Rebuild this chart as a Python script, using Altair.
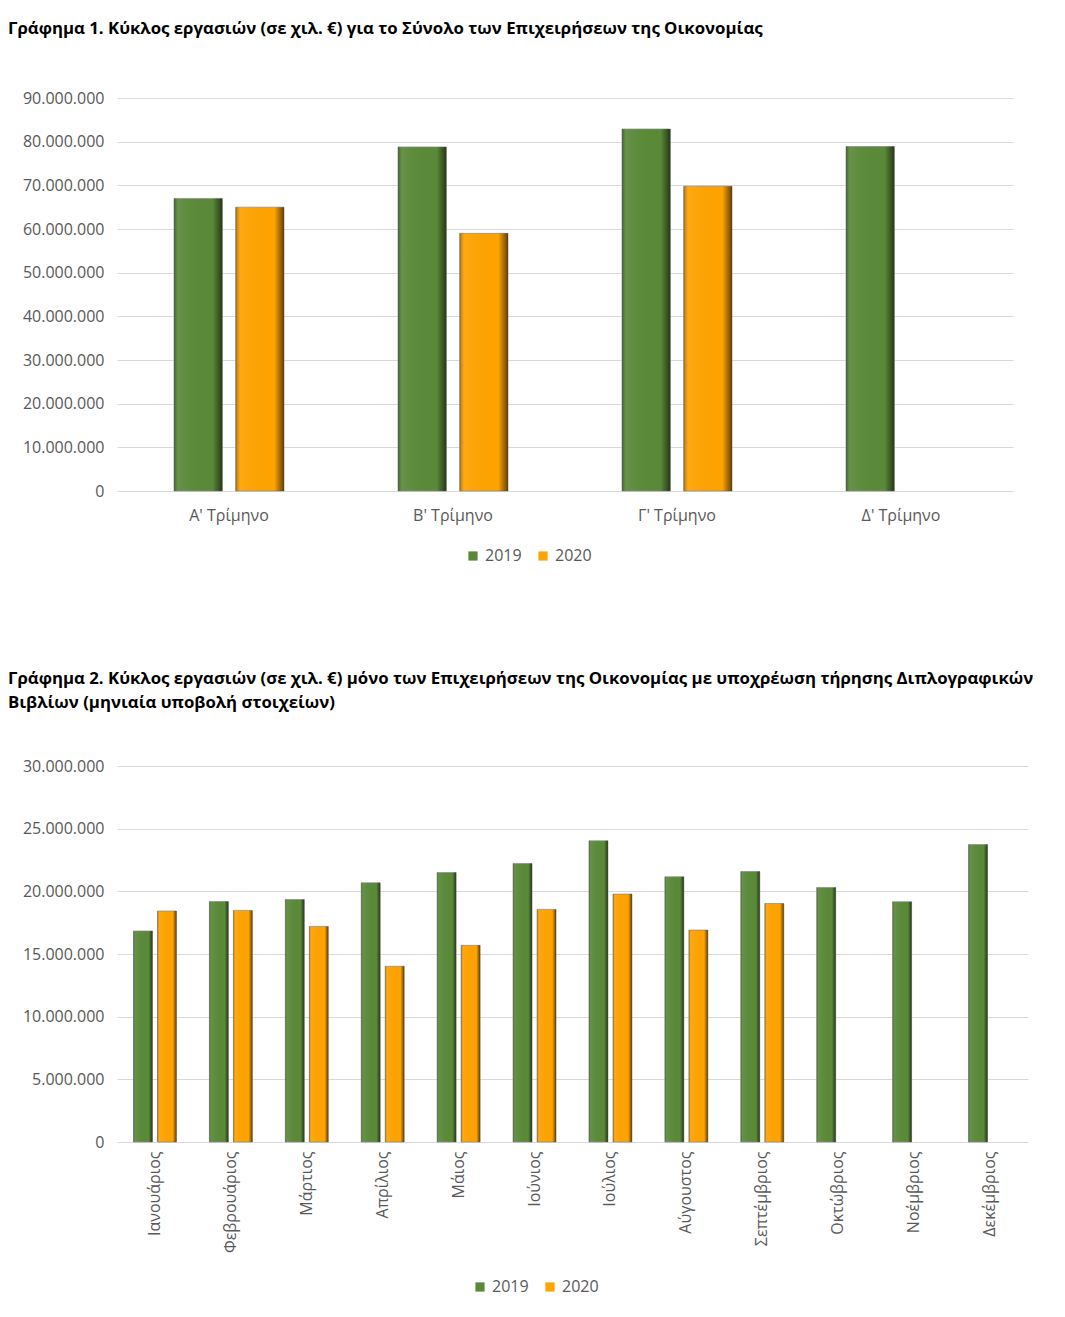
import altair as alt
import pandas as pd

# ---------------- data ----------------
years = ["2019", "2020"]

quarters = ["Α' Τρίμηνο", "Β' Τρίμηνο", "Γ' Τρίμηνο", "Δ' Τρίμηνο"]
q2019 = [67000000, 78800000, 82900000, 78900000]
q2020 = [65000000, 59000000, 69800000]

months = ["Ιανουάριος", "Φεβρουάριος", "Μάρτιος", "Απρίλιος", "Μάιος", "Ιούνιος",
          "Ιούλιος", "Αύγουστος", "Σεπτέμβριος", "Οκτώβριος", "Νοέμβριος", "Δεκέμβριος"]
m2019 = [16840000, 19190000, 19350000, 20680000, 21500000, 22220000,
         24030000, 21160000, 21580000, 20310000, 19170000, 23730000]
m2020 = [18430000, 18480000, 17200000, 14020000, 15690000, 18560000,
         19780000, 16910000, 19030000]

title1 = "Γράφημα 1.  Κύκλος εργασιών (σε χιλ. €) για το Σύνολο των Επιχειρήσεων της Οικονομίας"
title2 = ["Γράφημα 2. Κύκλος εργασιών (σε χιλ. €) μόνο των Επιχειρήσεων της Οικονομίας με υποχρέωση τήρησης Διπλογραφικών",
          "Βιβλίων (μηνιαία υποβολή στοιχείων)"]

y1_ticks = [0, 10000000, 20000000, 30000000, 40000000, 50000000, 60000000, 70000000, 80000000, 90000000]
y2_ticks = [0, 5000000, 10000000, 15000000, 20000000, 25000000, 30000000]


def frame(cats, v19, v20, cat_field, val_field, yr_field):
    rows = [{cat_field: c, yr_field: "2019", val_field: v} for c, v in zip(cats, v19)]
    rows += [{cat_field: c, yr_field: "2020", val_field: v} for c, v in zip(cats, v20)]
    return pd.DataFrame(rows)


df1 = frame(quarters, q2019, q2020, "quarter", "turnover_q", "year_q")
df2 = frame(months, m2019, m2020, "month", "turnover_m", "year_m")

FONT = "Open Sans"
GREY = "#595959"
COLORS = ["#5a8a38", "#ffa300"]
LABEL_EXPR = "replace(replace(format(datum.value, ','), ',', '.'), ',', '.')"

shade = alt.Gradient(
    gradient="linear", x1=0, x2=1, y1=0, y2=0,
    stops=[alt.GradientStop(color="rgba(0,0,0,0.35)", offset=0),
           alt.GradientStop(color="rgba(255,255,255,0.06)", offset=0.12),
           alt.GradientStop(color="rgba(0,0,0,0)", offset=0.8),
           alt.GradientStop(color="rgba(0,0,0,0.6)", offset=1)])


def bar_chart(df, cat_f, val_f, yr_f, cats, w, h, ymax, yticks, p_in, p_out,
              label_angle, label_pad, lx, ly, title, title_offset):
    x = alt.X(f"{cat_f}:N", sort=cats,
              scale=alt.Scale(paddingInner=0, paddingOuter=0),
              axis=alt.Axis(title=None, labelAngle=label_angle, labelPadding=label_pad,
                            ticks=False, domain=False, labelFont=FONT, labelFontSize=16,
                            labelColor=GREY))
    xo = alt.XOffset(f"{yr_f}:N", scale=alt.Scale(domain=years, paddingInner=p_in,
                                                  paddingOuter=p_out))
    y = alt.Y(f"{val_f}:Q", scale=alt.Scale(domain=[0, ymax], nice=False),
              axis=alt.Axis(title=None, values=yticks, labelExpr=LABEL_EXPR,
                            ticks=False, domain=False, labelPadding=13,
                            labelFont=FONT, labelFontSize=16, labelColor=GREY,
                            gridColor="#d9d9d9", gridWidth=1.2))
    main = alt.Chart(df).mark_bar(stroke="#8a8a8a", strokeWidth=0.7).encode(
        x=x, xOffset=xo, y=y,
        color=alt.Color(f"{yr_f}:N", scale=alt.Scale(domain=years, range=COLORS),
                        legend=alt.Legend(title=None, orient="none", legendX=lx, legendY=ly,
                                          direction="horizontal", symbolType="square",
                                          symbolSize=85, symbolStrokeWidth=0,
                                          labelFont=FONT, labelFontSize=16,
                                          labelColor=GREY, columnPadding=13,
                                          labelOffset=4)))
    over = alt.Chart(df).mark_bar(fill=shade).encode(x=x, xOffset=xo, y=y)
    return alt.layer(main, over).properties(
        width=w, height=h,
        title=alt.TitleParams(title, anchor="start", frame="group", dx=-109,
                              font=FONT, fontSize=16.8, fontWeight="bold",
                              color="black", offset=title_offset, lineHeight=24))


c1 = bar_chart(df1, "quarter", "turnover_q", "year_q", quarters, 896, 393, 90000000,
               y1_ticks, 0.217, 0.924, 0, 16, 348, 450, title1, 52)
c2 = bar_chart(df2, "month", "turnover_m", "year_m", months, 911, 376, 30000000,
               y2_ticks, 0.21, 0.686, 270, 9, 355, 513, title2, 46)

chart = alt.vconcat(c1, c2, spacing=107).properties(
    padding={"left": 0, "top": 13, "right": 5, "bottom": 5}
).configure_view(stroke=None).resolve_scale(
    x="independent", y="independent", xOffset="independent", color="independent"
).resolve_legend(color="independent")

chart.save("out.html", embed_options={"renderer": "svg", "actions": False})
